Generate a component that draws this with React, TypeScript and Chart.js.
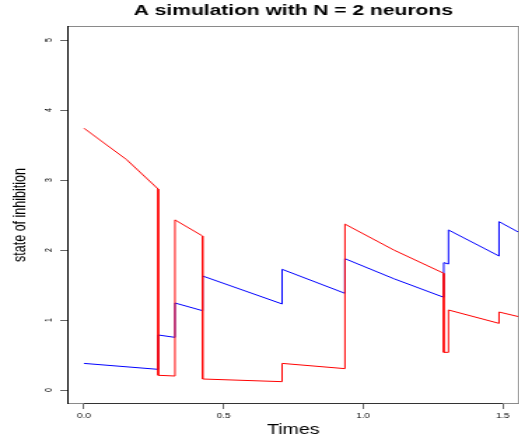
import React, { useEffect, useRef } from 'react';
import { Chart, registerables } from 'chart.js';

Chart.register(...registerables);

// ---- text ----
const titleText = 'A simulation with N = 2 neurons';
const xAxisLabel = 'Times';
const yAxisLabel = 'state of inhibition';

// ---- ticks ----
const xTickValues = [0, 0.5, 1.0, 1.5];
const xTickLabels = ['0.0', '0.5', '1.0', '1.5'];
const yTickValues = [0, 1, 2, 3, 4, 5];
const yTickLabels = ['0', '1', '2', '3', '4', '5'];

// ---- series: neuron 1 (red) ----
const redTimes = [0, 0.153, 0.266, 0.266, 0.326, 0.326, 0.425, 0.425, 0.71, 0.71, 0.935, 0.935, 1.11, 1.289, 1.289, 1.306, 1.306, 1.487, 1.487, 1.558];
const redValues = [3.74, 3.29, 2.87, 0.21, 0.2, 2.43, 2.2, 0.157, 0.119, 0.38, 0.305, 2.37, 2.0, 1.667, 0.538, 0.538, 1.143, 0.952, 1.114, 1.047];

// ---- series: neuron 2 (blue) ----
const blueTimes = [0, 0.266, 0.266, 0.326, 0.326, 0.425, 0.425, 0.71, 0.71, 0.935, 0.935, 1.11, 1.289, 1.289, 1.306, 1.306, 1.487, 1.487, 1.558];
const blueValues = [0.38, 0.295, 0.786, 0.752, 1.243, 1.133, 1.629, 1.229, 1.724, 1.381, 1.876, 1.59, 1.324, 1.819, 1.8, 2.286, 1.914, 2.405, 2.252];

const FONT = '"Liberation Sans", Arial, Helvetica, sans-serif';
const STRETCH = 1.4;
const W = 372;
const H = 445;

const framePlugin = {
  id: 'rframe',
  afterDraw(chart: any) {
    const { ctx, chartArea: a, scales } = chart;
    ctx.save();
    ctx.lineWidth = 1;
    ctx.strokeStyle = '#8a8a8a';
    ctx.strokeRect(a.left + 0.5, a.top + 0.5, a.right - a.left - 1, a.bottom - a.top - 1);
    ctx.strokeStyle = '#000';
    ctx.beginPath();
    ctx.moveTo(a.left + 0.5, a.top);
    ctx.lineTo(a.left + 0.5, a.bottom);
    ctx.stroke();
    ctx.strokeStyle = '#333';
    const x0 = scales.x.getPixelForValue(xTickValues[0]);
    const x1 = scales.x.getPixelForValue(xTickValues[xTickValues.length - 1]);
    ctx.beginPath();
    ctx.moveTo(x0, a.bottom - 0.5);
    ctx.lineTo(x1, a.bottom - 0.5);
    ctx.stroke();
    ctx.restore();
  },
};

export default function App() {
  const ref = useRef<HTMLCanvasElement | null>(null);

  useEffect(() => {
    if (!ref.current) return;
    const chart = new Chart(ref.current, {
      type: 'line',
      data: {
        datasets: [
          {
            label: 'neuron 1',
            data: redTimes.map((t, i) => ({ x: t, y: redValues[i] })),
            borderColor: '#ff0000',
            borderWidth: 1,
            pointRadius: 0,
            fill: false,
            tension: 0,
            order: 0,
          },
          {
            label: 'neuron 2',
            data: blueTimes.map((t, i) => ({ x: t, y: blueValues[i] })),
            borderColor: '#0000ff',
            borderWidth: 1,
            pointRadius: 0,
            fill: false,
            tension: 0,
            order: 1,
          },
        ],
      },
      options: {
        responsive: false,
        animation: false,
        layout: { padding: { left: 0, right: 1, top: 0, bottom: 0 } },
        plugins: {
          legend: { display: false },
          tooltip: { enabled: false },
          title: {
            display: true,
            text: titleText,
            fullSize: false,
            color: '#000',
            font: { family: FONT, size: 15, weight: 'bold', lineHeight: 1.2 },
            padding: { top: 2, bottom: 6 },
          },
        },
        scales: {
          x: {
            type: 'linear',
            min: -0.06,
            max: 1.56,
            afterBuildTicks: (s: any) => {
              s.ticks = xTickValues.map((v) => ({ value: v }));
            },
            afterFit: (s: any) => {
              s.height = 41;
            },
            grid: { drawOnChartArea: false, drawTicks: true, tickLength: 5, color: '#666', lineWidth: 1 },
            border: { display: false },
            ticks: {
              autoSkip: false,
              maxRotation: 0,
              minRotation: 0,
              padding: 2.5,
              color: '#000',
              font: { family: FONT, size: 7 },
              callback: (_v: any, i: number) => xTickLabels[i],
            },
            title: {
              display: true,
              text: xAxisLabel,
              color: '#000',
              font: { family: FONT, size: 14, lineHeight: 1.2 },
              padding: { top: 0, bottom: 6 },
            },
          },
          y: {
            type: 'linear',
            min: -0.2,
            max: 5.2,
            afterBuildTicks: (s: any) => {
              s.ticks = yTickValues.map((v) => ({ value: v }));
            },
            afterFit: (s: any) => {
              s.width = 48;
            },
            grid: { drawOnChartArea: false, drawTicks: true, tickLength: 5, color: '#666', lineWidth: 1 },
            border: { display: false },
            ticks: {
              autoSkip: false,
              minRotation: 90,
              maxRotation: 90,
              crossAlign: 'center',
              padding: 6.3,
              color: '#000',
              font: { family: FONT, size: 7 },
              callback: (_v: any, i: number) => yTickLabels[i],
            },
            title: {
              display: true,
              text: yAxisLabel,
              color: '#000',
              font: { family: FONT, size: 12.5, lineHeight: 1.2 },
              padding: { top: 7.5, bottom: 0 },
            },
          },
        },
      } as any,
      plugins: [framePlugin],
    });
    return () => chart.destroy();
  }, []);

  return (
    <div
      style={{
        position: 'fixed',
        left: 0,
        top: 0,
        width: 519,
        height: 445,
        overflow: 'hidden',
        background: '#fff',
      }}
    >
      <div
        style={{
          width: W,
          height: H,
          transform: `scaleX(${STRETCH})`,
          transformOrigin: '0 0',
        }}
      >
        <canvas ref={ref} width={W} height={H} style={{ display: 'block' }} />
      </div>
    </div>
  );
}
